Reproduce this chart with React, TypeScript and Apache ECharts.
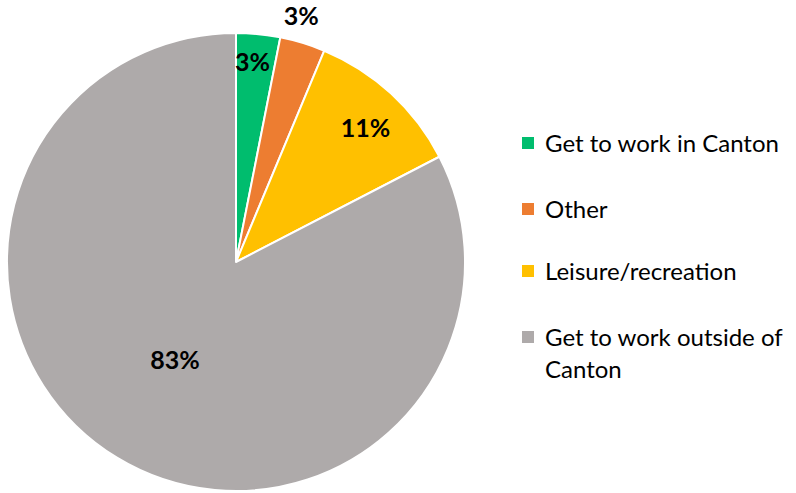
import React, { useEffect, useRef } from "react";
import * as echarts from "echarts";

const categories = ["Get to work in Canton", "Other", "Leisure/recreation", "Get to work outside of Canton"];
const legendLabels = ["Get to work in Canton", "Other", "Leisure/recreation", "Get to work outside of\nCanton"];
const values = [3.1, 3.2, 11.1, 82.6];
const colors = ["#00BD6E", "#ED7D31", "#FFC000", "#AEAAAA"];
const labelOffsets: [number, number][] = [[5, -84], [31, -135], [50, -49], [0, -3]];

export default function App() {
  const ref = useRef<HTMLDivElement>(null);
  useEffect(() => {
    if (!ref.current) return;
    const chart = echarts.init(ref.current, null, { renderer: "svg" });
    const legendX = 522;
    const legendY = [143, 209, 271, 337];
    const graphic: any[] = [];
    legendLabels.forEach((t, i) => {
      graphic.push({
        type: "rect",
        shape: { x: legendX, y: legendY[i] - 6, width: 12, height: 12 },
        style: { fill: colors[i] },
      });
      graphic.push({
        type: "text",
        x: 545,
        y: legendY[i] - 17,
        style: {
          text: t,
          fill: "#000",
          font: "24px Lato",
          lineHeight: 32,
          verticalAlign: "top",
          textVerticalAlign: "top",
        },
      });
    });
    chart.setOption({
      animation: false,
      graphic,
      series: [
        {
          type: "pie",
          center: [236, 262],
          radius: [0, 229],
          startAngle: 90,
          clockwise: true,
          itemStyle: { borderColor: "#fff", borderWidth: 2 },
          labelLine: { show: false },
          label: {
            show: true,
            position: "inside",
            color: "#000",
            fontFamily: "Lato",
            fontWeight: "bold",
            fontSize: 25,
            formatter: (p: any) => Math.round(p.value) + "%",
          },
          emphasis: { disabled: true },
          data: categories.map((name, i) => ({
            name,
            value: values[i],
            itemStyle: { color: colors[i] },
            label: { offset: labelOffsets[i] },
          })),
        },
      ],
    });
    return () => chart.dispose();
  }, []);
  return <div ref={ref} style={{ position: "fixed", left: 0, top: 0, width: 796, height: 493, background: "#fff" }} />;
}
